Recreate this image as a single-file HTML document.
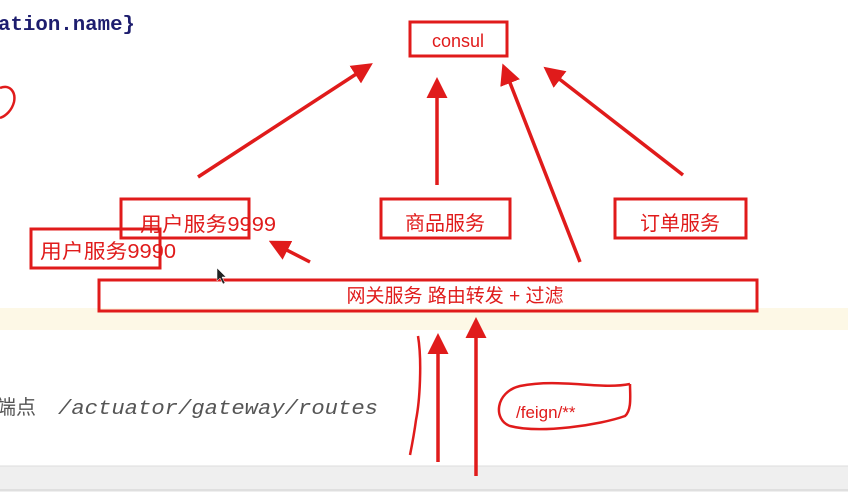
<!DOCTYPE html>
<html><head><meta charset="utf-8"><style>
html,body{margin:0;padding:0;background:#fff;}
body{width:848px;height:492px;overflow:hidden;position:relative;}
</style></head><body>
<svg width="848" height="492" viewBox="0 0 848 492" xmlns="http://www.w3.org/2000/svg" style="position:absolute;left:0;top:0">
<defs>
<marker id="ah" markerWidth="6" markerHeight="6" refX="4" refY="3" orient="auto" markerUnits="strokeWidth">
<path d="M0,0 L6,3 L0,6 Z" fill="#e01b1b"/></marker>
</defs>
<rect x="0" y="308" width="848" height="22" fill="#fdf8e6"/>
<rect x="0" y="466" width="848" height="26" fill="#efefef"/>
<line x1="0" y1="466" x2="848" y2="466" stroke="#dcdcdc"/>
<line x1="0" y1="490" x2="848" y2="490" stroke="#cfcfcf"/>
<text x="-2" y="30" font-family="Liberation Mono, monospace" font-weight="bold" font-size="20" fill="#1d1d6e" textLength="137" lengthAdjust="spacingAndGlyphs">ation.name}</text>
<text x="-4" y="414" font-family="Liberation Mono, 'Noto Sans CJK SC', monospace" font-size="20" fill="#555">端点</text>
<text x="58" y="414" font-family="Liberation Mono, monospace" font-style="italic" font-size="20" fill="#555" textLength="320" lengthAdjust="spacingAndGlyphs">/actuator/gateway/routes</text>
<path d="M0,88 C10,84 16,92 14,102 C12,110 6,116 0,118" fill="none" stroke="#e01b1b" stroke-width="2.5"/>
<g fill="none" stroke="#e01b1b" stroke-width="3">
<rect x="410" y="22" width="97" height="34"/>
<rect x="121" y="199" width="128" height="39"/>
<rect x="31" y="229" width="129" height="39"/>
<rect x="381" y="199" width="129" height="39"/>
<rect x="615" y="199" width="131" height="39"/>
<rect x="99" y="280" width="658" height="31"/>
</g>
<g font-family="Liberation Sans, 'Noto Sans CJK SC', sans-serif" font-size="20" fill="#e01b1b">
<text x="458" y="47" text-anchor="middle" font-size="18">consul</text>
<text x="140" y="231" textLength="136" lengthAdjust="spacingAndGlyphs">用户服务9999</text>
<text x="40" y="258" textLength="136" lengthAdjust="spacingAndGlyphs">用户服务9990</text>
<text x="445" y="230" text-anchor="middle">商品服务</text>
<text x="680" y="230" text-anchor="middle">订单服务</text>
<text x="455" y="302" text-anchor="middle" font-size="19">网关服务 路由转发 + 过滤</text>
<text x="516" y="418" font-size="17">/feign/**</text>
</g>
<g stroke="#e01b1b" stroke-width="3.5" fill="none" marker-end="url(#ah)">
<line x1="198" y1="177" x2="367" y2="67"/>
<line x1="437" y1="185" x2="437" y2="84"/>
<line x1="580" y1="262" x2="505" y2="70"/>
<line x1="683" y1="175" x2="549" y2="71"/>
<line x1="310" y1="262" x2="275" y2="244"/>
<line x1="438" y1="462" x2="438" y2="340"/>
<line x1="476" y1="476" x2="476" y2="324"/>
</g>
<path d="M418,336 C422,360 420,400 416,420 C414,435 412,445 410,455" fill="none" stroke="#e01b1b" stroke-width="2.5"/>
<path d="M630,384 C600,390 560,378 520,386 C495,392 493,420 510,426 C540,434 600,425 625,416 C632,410 630,395 630,384" fill="none" stroke="#e01b1b" stroke-width="2.5"/>
<path d="M217,268 l0,13 l3,-3 l3,6 l2,-1 l-3,-6 l4,0 z" fill="#222" stroke="#fff" stroke-width="0.5"/>
</svg>
</body></html>
